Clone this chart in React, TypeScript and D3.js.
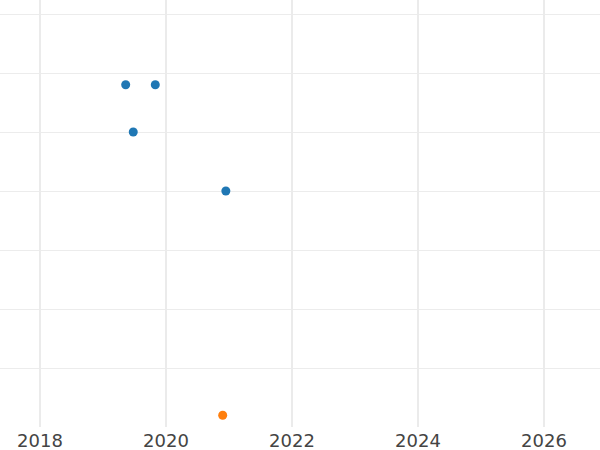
import React from 'react';
import * as d3 from 'd3';

// point data
const blueYears = [2019.36, 2019.83, 2019.48, 2020.95];
const blueValues = [5.8, 5.8, 5.0, 4.0];
const orangeYears = [2020.9];
const orangeValues = [0.2];
const xTicks = [2018, 2020, 2022, 2024, 2026];
const yTicks = [1, 2, 3, 4, 5, 6, 7];

const width = 600;
const height = 450;
const plotBottom = 427;

export default function App() {
  const x = d3.scaleLinear().domain([2017.365, 2026.889]).range([0, width]);
  const y = d3.scaleLinear().domain([0, 427 / 59]).range([plotBottom, 0]);

  const blue = blueYears.map((yr, i) => ({ yr, v: blueValues[i] }));
  const orange = orangeYears.map((yr, i) => ({ yr, v: orangeValues[i] }));

  return (
    <svg
      width={width}
      height={height}
      style={{ position: 'fixed', top: 0, left: 0, background: '#fff' }}
    >
      {/* horizontal grid */}
      {yTicks.map(t => (
        <line key={'h' + t} x1={0} x2={width} y1={Math.round(y(t)) + 0.5} y2={Math.round(y(t)) + 0.5}
          stroke="#ececec" strokeWidth={1} />
      ))}
      {/* vertical grid */}
      {xTicks.map(t => (
        <line key={'v' + t} x1={x(t)} x2={x(t)} y1={0} y2={plotBottom}
          stroke="#ebebeb" strokeWidth={2} />
      ))}
      {xTicks.map(t => (
        <text key={'l' + t} x={x(t)} y={447} textAnchor="middle"
          fontFamily="DejaVu Sans" fontSize={18} fill="#444">{t}</text>
      ))}
      {blue.map((d, i) => (
        <circle key={'b' + i} cx={x(d.yr)} cy={y(d.v)} r={4.5} fill="#1f77b4" />
      ))}
      {orange.map((d, i) => (
        <circle key={'o' + i} cx={x(d.yr)} cy={y(d.v)} r={4.5} fill="#ff7f0e" />
      ))}
    </svg>
  );
}
